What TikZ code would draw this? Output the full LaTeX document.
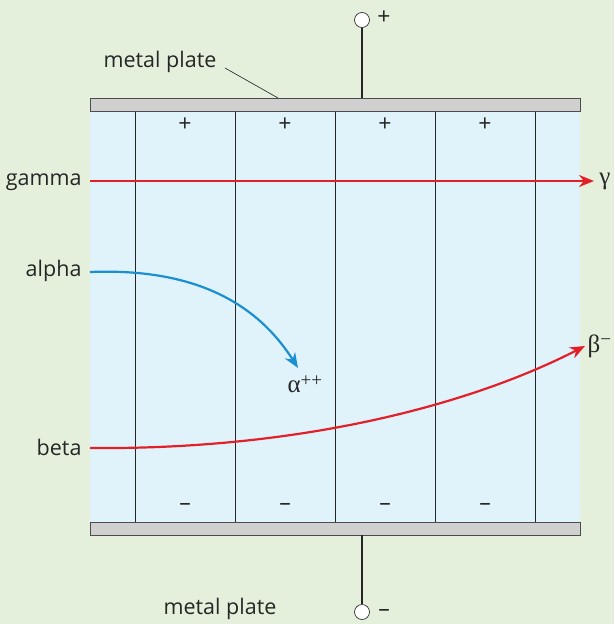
\documentclass[tikz,border=0pt]{standalone}
\usepackage{fontspec}
\setmainfont{Open Sans}
\newfontfamily\greekfont{Liberation Serif}
\usetikzlibrary{arrows.meta}
\definecolor{bgreen}{HTML}{E4F0DC}
\definecolor{fieldblue}{HTML}{E0F3FA}
\definecolor{plategray}{HTML}{D0D0D0}
\definecolor{rayred}{HTML}{E3202A}
\definecolor{rayblue}{HTML}{1A8FD1}
\tikzset{
  plate/.style={
    fill=plategray,
    draw=black!70,
    line width=0.7pt
  },
  field line/.style={
    draw=black!85,
    line width=0.7pt
  },
  wire/.style={
    draw=black!85,
    line width=2pt
  },
  terminal/.style={
    circle,
    draw=black!80,
    fill=white,
    line width=0.7pt,
    inner sep=0pt,
    minimum size=15pt
  },
  red ray/.style={
    -{Stealth[length=15pt,width=12pt]},
    line width=2.2pt,
    color=rayred
  },
  blue ray/.style={
    -{Stealth[length=15pt,width=12pt]},
    line width=2.2pt,
    color=rayblue
  },
  ray label/.style={
    font=\fontsize{21.5}{24}\selectfont,
    text=black!85
  },
  sign/.style={
    font=\fontsize{23}{25}\selectfont,
    text=black!85
  },
  greek label/.style={
    font=\greekfont\fontsize{25}{27}\selectfont,
    text=black!85
  }
}
\begin{document}
\begin{tikzpicture}[x=1pt, y=-1pt]
    % background and field region
    \fill[bgreen] (0, 0) rectangle (614, 624);
    \useasboundingbox (0, 0) rectangle (614, 624);
    \fill[fieldblue] (90, 111) rectangle (580, 522);

    % field lines
    \foreach \x in {135, 235, 335, 435, 535} {
      \draw[field line] (\x, 111) -- (\x, 522);
    }

    % plates
    \draw[plate] (90, 98) rectangle (580, 111);
    \draw[plate] (90, 522) rectangle (580, 535);

    % terminals
    \node[terminal] (posterm) at (362, 20) {};
    \node[terminal] (negterm) at (362, 612) {};
    \coordinate (toptap) at (362, 98);
    \coordinate (bottap) at (362, 535);
    \draw[wire] (posterm) -- (toptap);
    \draw[wire] (negterm) -- (bottap);
    \node[sign] (possign) at (384, 18) {+};
    \node[sign] (negsign) at (384, 613) {\textendash};

    % labels for the plates
    \node[ray label] (topplate) at (160, 62) {metal plate};
    \coordinate (platept) at (278, 98);
    \draw[black!80, line width=0.7pt] (225, 68) -- (platept);
    \node[ray label] (botplate) at (220, 609) {metal plate};

    % charges
    \foreach \x in {185, 285, 385, 485} {
      \node[sign] at (\x, 125) {+};
      \node[sign] at (\x, 507) {\textendash};
    }

    % gamma
    \node[ray label, anchor=east] (gamma) at (85, 182) {gamma};
    \coordinate (gstart) at (90, 181);
    \coordinate (gend) at (594, 181);
    \draw[red ray] (gstart) -- (gend);
    \node[greek label] (gammasym) at (605, 181) {γ};

    % alpha
    \node[ray label, anchor=east] (alpha) at (85, 271) {alpha};
    \coordinate (astart) at (90, 272);
    \coordinate (aend) at (298, 368);
    \draw[blue ray] (astart) .. controls (190, 268) and (255, 300) .. (aend);
    \node[greek label, anchor=west] (alphasym) at (284, 384) {α\raisebox{0.5ex}{\fontsize{19}{21}\selectfont ++}};

    % beta
    \node[ray label, anchor=east] (beta) at (85, 447) {beta};
    \coordinate (bstart) at (90, 448);
    \coordinate (bend) at (585, 346);
    \draw[red ray] (bstart) .. controls (300, 450) and (470, 405) .. (bend);
    \node[greek label, anchor=west] (betasym) at (584, 346) {β\raisebox{0.55ex}{\fontsize{19}{21}\selectfont −}};

  \end{tikzpicture}
\end{document}
